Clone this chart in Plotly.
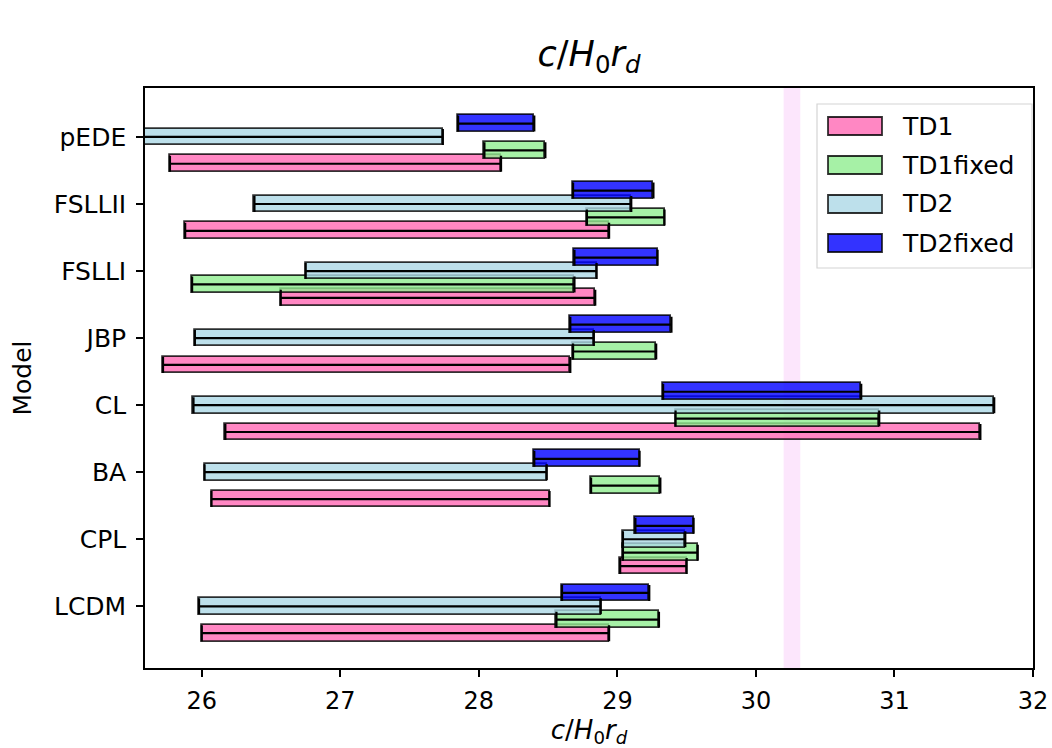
import plotly.graph_objects as go

models = ["LCDM", "CPL", "BA", "CL", "JBP", "FSLLI", "FSLLII", "pEDE"]
series = ["TD1", "TD1fixed", "TD2", "TD2fixed"]

td1_lo = [26.00, 29.02, 26.07, 26.17, 25.72, 26.57, 25.88, 25.77]
td1_hi = [28.94, 29.50, 28.51, 31.62, 28.66, 28.84, 28.94, 28.16]
td1f_lo = [28.56, 29.04, 28.81, 29.42, 28.68, 25.93, 28.78, 28.04]
td1f_hi = [29.30, 29.58, 29.31, 30.89, 29.28, 28.69, 29.34, 28.48]
td2_lo = [25.98, 29.04, 26.02, 25.94, 25.95, 26.75, 26.38, 25.45]
td2_hi = [28.88, 29.49, 28.49, 31.72, 28.83, 28.85, 29.10, 27.74]
td2f_lo = [28.60, 29.13, 28.40, 29.33, 28.66, 28.69, 28.68, 27.85]
td2f_hi = [29.23, 29.55, 29.16, 30.76, 29.39, 29.29, 29.26, 28.40]

band = [30.20, 30.32]

lows = [td1_lo, td1f_lo, td2_lo, td2f_lo]
highs = [td1_hi, td1f_hi, td2_hi, td2f_hi]
offsets = [-0.4, -0.2, 0.0, 0.2]
colors = ["rgba(255,105,180,0.8)", "rgba(144,238,144,0.8)",
          "rgba(173,216,230,0.8)", "rgba(0,0,255,0.8)"]
EDGE = "rgba(0,0,0,0.8)"

FONT = "DejaVu Sans"
W, H = 1052, 748
L, R, T, B = 145, 19, 88, 80
PW, PH = W - L - R, H - T - B

fig = go.Figure()

for name, lo, hi, off, col in zip(series, lows, highs, offsets, colors):
    ys = [i + off for i in range(len(models))]
    fig.add_trace(go.Bar(
        name=name, orientation="h", y=ys, base=lo,
        x=[h - l for l, h in zip(lo, hi)], width=0.25, showlegend=False,
        marker=dict(color=col, line=dict(color=EDGE, width=1.8)),
    ))

for name, lo, hi, off in zip(series, lows, highs, offsets):
    ys = [i + off for i in range(len(models))]
    fig.add_trace(go.Scatter(
        x=[(l + h) / 2 for l, h in zip(lo, hi)], y=ys, mode="markers",
        marker=dict(size=1, color="rgba(0,0,0,0)"), showlegend=False, hoverinfo="skip",
        error_x=dict(type="data", symmetric=True,
                     array=[(h - l) / 2 for l, h in zip(lo, hi)],
                     color="black", thickness=2.2, width=8),
    ))

fig.add_shape(type="rect", xref="x", yref="paper", x0=band[0], x1=band[1], y0=0, y1=1,
              fillcolor="rgba(238,130,238,0.2)", line=dict(width=0), layer="below")

# manual legend (matplotlib-like rectangle patches)
def px_x(p):
    return (p - L) / PW

def px_y(p):
    return (H - B - p) / PH

lg_left, lg_right, lg_top, lg_bot = 817, 1032, 104, 268
fig.add_shape(type="rect", xref="paper", yref="paper",
              x0=px_x(lg_left), x1=px_x(lg_right), y0=px_y(lg_bot), y1=px_y(lg_top),
              fillcolor="rgba(255,255,255,0.8)", line=dict(color="#d4d4d4", width=1.2))
for k, (name, col) in enumerate(zip(series, colors)):
    cy = 126 + 39 * k
    fig.add_shape(type="rect", xref="paper", yref="paper",
                  x0=px_x(828), x1=px_x(882), y0=px_y(cy + 9), y1=px_y(cy - 9),
                  fillcolor=col, line=dict(color=EDGE, width=1.8))
    fig.add_annotation(text=name, xref="paper", yref="paper", x=px_x(900), y=px_y(cy),
                       xanchor="left", yanchor="middle", showarrow=False,
                       font=dict(size=25, family=FONT, color="black"))

title_txt = "<i>c</i>/<i>H</i><sub>0</sub><i>r</i><sub><i>d</i></sub>"
fig.update_layout(
    width=W, height=H, barmode="overlay", bargap=0, showlegend=False,
    paper_bgcolor="white", plot_bgcolor="white",
    margin=dict(l=L, r=R, t=T, b=B),
    font=dict(family=FONT, size=25, color="black"),
    title=dict(text=title_txt, x=(L + PW / 2) / W, xanchor="center",
               y=1 - 66 / H, yanchor="bottom", font=dict(size=35)),
    xaxis=dict(range=[25.59, 32.0], tickvals=[26, 27, 28, 29, 30, 31, 32],
               showline=True, linecolor="black", linewidth=1.6, mirror=True,
               ticks="outside", ticklen=7, tickwidth=1.6, tickcolor="black",
               showgrid=False, zeroline=False, tickfont=dict(size=24), automargin=False,
               ticklabelstandoff=3,
               title=dict(text=title_txt, font=dict(size=26), standoff=14)),
    yaxis=dict(range=[-0.92, 7.73], tickvals=list(range(len(models))), ticktext=models,
               showline=True, linecolor="black", linewidth=1.6, mirror=True,
               ticks="outside", ticklen=7, tickwidth=1.6, tickcolor="black",
               showgrid=False, zeroline=False, tickfont=dict(size=25), automargin=False,
               ticklabelstandoff=5,
               title=dict(text="Model", font=dict(size=25), standoff=15)),
)

fig.write_html("out.html", config={"displayModeBar": False},
               post_script="document.body.style.margin='0';document.body.style.overflow='hidden';")
